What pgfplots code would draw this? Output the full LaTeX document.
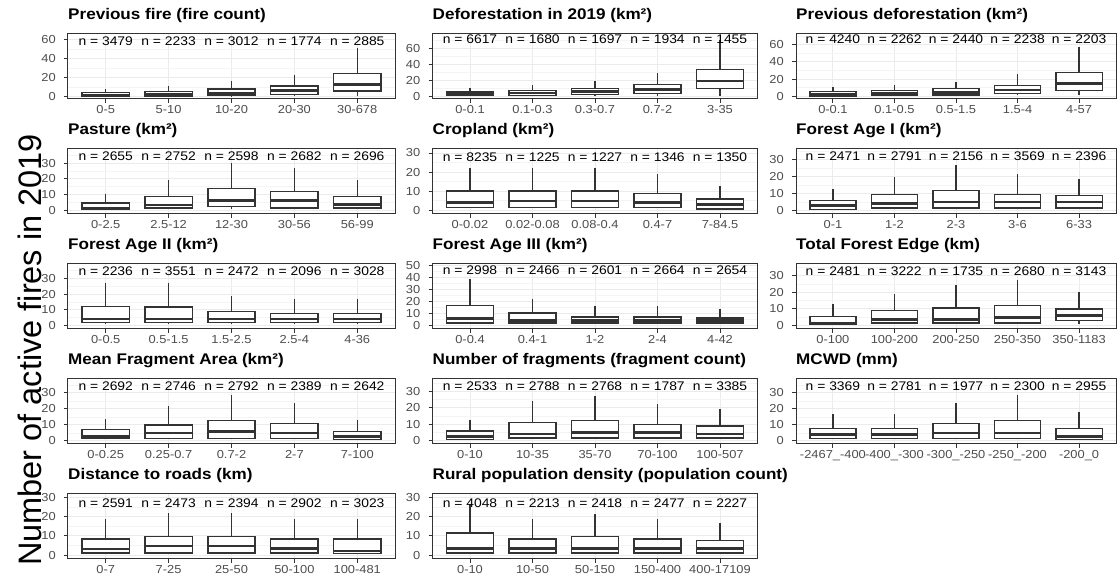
\documentclass[border=0pt]{standalone}
\usepackage{fontspec}
\setmainfont{Liberation Sans}[FakeStretch=1.11]
\newfontfamily\ylabfont{Liberation Sans}
\usepackage{pgfplots}
\pgfplotsset{compat=1.18}
\usepackage{pgfplotstable}
\usepgfplotslibrary{statistics}
\definecolor{gA}{HTML}{333333}
\definecolor{gB}{HTML}{4D4D4D}
\definecolor{gridmaj}{HTML}{EBEBEB}
\definecolor{gridmin}{HTML}{F4F4F4}

\pgfplotstableread{
lw q1 med q3 uw n
1 1 2 4.5 8.5 3479
1 1 2.7 5.5 11 2233
1 1.4 3.8 8.4 17 3012
1 2.8 6.6 11.5 23.4 1774
1 6.3 13.3 24.8 51 2885
}\tA
\pgfplotstableread{
lw q1 med q3 uw n
0.8 0.8 2.9 5.4 10 6617
1 1.25 4.2 7.5 14 1680
1 2.5 6.2 9.6 19 1697
1 3.75 8.75 14.6 29.6 1934
1 10 19.2 33.3 70 1455
}\tB
\pgfplotstableread{
lw q1 med q3 uw n
0.4 0.4 2 5.5 10.5 4240
0.8 0.8 3.5 6.6 12.9 2262
1 1.6 4.7 9 17 2440
1 3.1 7.4 12.9 26 2238
1 6.6 14.8 27.7 57 2203
}\tC
\pgfplotstableread{
lw q1 med q3 uw n
0.4 0.4 1.5 4.6 10.6 2655
1 1.5 3.4 8.9 19 2752
1 2.5 6.1 13.9 30 2598
1 1.5 6.1 11.8 26.8 2682
1 1.5 3.6 8.9 19 2696
}\tD
\pgfplotstableread{
lw q1 med q3 uw n
1 1.6 4 10.1 22 8235
1 1.6 5 10.1 22 1225
1 1.6 5 10.1 22 1227
1 1.6 4 9 19 1346
0.7 0.7 3 5.9 13 1350
}\tE
\pgfplotstableread{
lw q1 med q3 uw n
0.4 0.4 2.8 5.7 12.8 2471
1 1.4 3.9 9.3 19.7 2791
1 1.4 4.9 11.6 26.8 2156
1 1.4 4.9 9.3 21.7 3569
1 1.4 4.9 8.7 18.7 2396
}\tF
\pgfplotstableread{
lw q1 med q3 uw n
1 2.1 4.2 12.3 27 2236
1 2.1 4.2 11.8 27 3551
1 2.1 4.2 8.9 19 2472
1 2.1 4.2 7.6 16.9 2096
1 2.1 4.2 7.6 16.9 3028
}\tG
\pgfplotstableread{
lw q1 med q3 uw n
1 2.2 5.8 16.6 38.7 2998
1 2.2 4.4 10.5 22.4 2466
1 2.2 4.4 7.2 16.6 2601
1 2.2 4.4 7.2 16.6 2664
1 2.2 4.1 6.4 13.8 2654
}\tH
\pgfplotstableread{
lw q1 med q3 uw n
0.6 0.6 1.6 5.6 13 2481
1 1.6 3.6 9 19 3222
1 1.6 3.6 10.6 24.2 1735
1 1.6 5 12 27.6 2680
1 3 6 10 20 3143
}\tI
\pgfplotstableread{
lw q1 med q3 uw n
1 1.7 2.9 7.1 14 2692
1 1.7 5 10 21.7 2746
1 1.7 6 12.9 29 2792
1 1.7 5 10.8 23.75 2389
0.8 0.8 2.9 5.8 12.9 2642
}\tJ
\pgfplotstableread{
lw q1 med q3 uw n
0.4 0.4 2.4 5.7 12.7 2533
1 1.4 3.9 11 24.3 2788
1 1.4 4.9 12 27.3 2768
1 1.4 4.9 9.8 22.4 1787
1 1.4 3.9 8.8 19.4 3385
}\tK
\pgfplotstableread{
lw q1 med q3 uw n
1 1.7 4 7.9 17 3369
1 1.7 4 7.9 17 2781
1 1.7 5 10.8 23.75 1977
1 1.7 5 12.9 29 2300
0.8 0.8 2.9 7.9 18 2955
}\tL
\pgfplotstableread{
lw q1 med q3 uw n
1 1.2 3.3 8.4 18.8 2591
1 1.2 4.8 9.8 21.9 2473
1 1.2 4.8 9.8 21.9 2394
1 1.2 3.4 8.4 18.8 2902
1 1 2.2 8.4 18.8 3023
}\tM
\pgfplotstableread{
lw q1 med q3 uw n
1 1.2 3.4 11.6 26.5 4048
1 1.2 3.4 8.4 18.8 2213
1 1.2 3.4 9.8 21.6 2418
1 1.2 3.4 8.4 18.8 2477
1 1.2 3.4 7.6 16.7 2227
}\tN

\pgfplotsset{
  panel/.style={
    scale only axis, height=65pt,
    anchor=south west,
    xmin=-0.6, xmax=4.6,
    xtick={0,1,2,3,4},
    xmajorgrids, ymajorgrids, yminorgrids,
    major grid style={gridmaj, line width=1pt},
    minor grid style={gridmin, line width=0.6pt},
    axis line style={gA, line width=1pt},
    tick align=outside, major tick length=4pt, minor tick length=0pt,
    tick style={gA, line width=1pt},
    xtick pos=bottom, ytick pos=left,
    /pgf/number format/assume math mode=true,
    tick label style={font=\fontsize{11.6}{12}\selectfont, text=gB},
    yticklabel style={anchor=east, inner sep=0pt, xshift=-8pt},
    xticklabel style={anchor=base, inner sep=0pt, yshift=-10.6pt},
    title style={anchor=base west, at={(0,1)}, yshift=8.5pt, inner sep=0pt,
      font=\bfseries\fontsize{15.4}{16}\selectfont},
  },
  bx/.style={draw=gA, fill=white, line width=1.3pt, solid, mark=none,
    boxplot/draw direction=y,
    boxplot/box extend=0.75, boxplot/whisker extend=0,
    boxplot/every median/.style={line width=2.5pt}},
}
\tikzset{nlab/.style={font=\fontsize{12.5}{13}\selectfont, text=black, inner sep=0pt, anchor=center}}

\newcommand\boxes[2]{%
  \pgfplotsinvokeforeach{0,1,2,3,4}{%
    \pgfplotstablegetelem{##1}{lw}\of{#1}\let\vlw\pgfplotsretval
    \pgfplotstablegetelem{##1}{q1}\of{#1}\let\vqa\pgfplotsretval
    \pgfplotstablegetelem{##1}{med}\of{#1}\let\vmed\pgfplotsretval
    \pgfplotstablegetelem{##1}{q3}\of{#1}\let\vqb\pgfplotsretval
    \pgfplotstablegetelem{##1}{uw}\of{#1}\let\vuw\pgfplotsretval
    \pgfplotstablegetelem{##1}{n}\of{#1}\let\vn\pgfplotsretval
    \pgfmathsetmacro\rx{(##1+0.6)/5.2}%
    \edef\tmp{\noexpand\addplot[bx, boxplot prepared={lower whisker=\vlw,
      lower quartile=\vqa, median=\vmed, upper quartile=\vqb,
      upper whisker=\vuw, draw position=##1}] coordinates {};
      \noexpand\node[nlab] at (rel axis cs:\rx,#2) {n = \vn};}\tmp
  }%
}

\begin{document}
\begin{tikzpicture}
\path[use as bounding box] (0,0) rectangle (1120pt,577pt);

\node[rotate=90, anchor=base, inner sep=0pt, font=\ylabfont\fontsize{32.5}{34}\selectfont] at (42pt,227pt) {Number of active fires in 2019};

% Row 1
\begin{axis}[panel, at={(68pt,478pt)}, width=327pt, ymin=-2.1, ymax=66,
  ytick={0,20,40,60}, minor ytick={10,30,50},
  xticklabels={0-5,5-10,10-20,20-30,30-678},
  title={Previous fire (fire count)}]
\boxes{\tA}{0.885}
\end{axis}
\begin{axis}[panel, at={(432.5pt,478pt)}, width=325pt, ymin=-3.2, ymax=77.5,
  ytick={0,20,40,60}, minor ytick={10,30,50,70},
  xticklabels={0-0.1,0.1-0.3,0.3-0.7,0.7-2,3-35},
  title={Deforestation in 2019 (km²)}]
\boxes{\tB}{0.925}
\end{axis}
\begin{axis}[panel, at={(796pt,478pt)}, width=320pt, ymin=-3.1, ymax=72.5,
  ytick={0,20,40,60}, minor ytick={10,30,50,70},
  xticklabels={0-0.1,0.1-0.5,0.5-1.5,1.5-4,4-57},
  title={Previous deforestation (km²)}]
\boxes{\tC}{0.925}
\end{axis}

% Row 2
\begin{axis}[panel, at={(68pt,363pt)}, width=327pt, ymin=-2.3, ymax=38.9,
  ytick={0,10,20,30}, minor ytick={5,15,25,35},
  xticklabels={0-2.5,2.5-12,12-30,30-56,56-99},
  title={Pasture (km²)}]
\boxes{\tD}{0.885}
\end{axis}
\begin{axis}[panel, at={(432.5pt,363pt)}, width=325pt, ymin=-1.9, ymax=32.1,
  ytick={0,10,20,30}, minor ytick={5,15,25},
  xticklabels={0-0.02,0.02-0.08,0.08-0.4,0.4-7,7-84.5},
  title={Cropland (km²)}]
\boxes{\tE}{0.874}
\end{axis}
\begin{axis}[panel, at={(796pt,363pt)}, width=320pt, ymin=-2.2, ymax=36.3,
  ytick={0,10,20,30}, minor ytick={5,15,25,35},
  xticklabels={0-1,1-2,2-3,3-6,6-33},
  title={Forest Age I (km²)}]
\boxes{\tF}{0.885}
\end{axis}

% Row 3
\begin{axis}[panel, at={(68pt,248pt)}, width=327pt, ymin=-2.1, ymax=39.1,
  ytick={0,10,20,30}, minor ytick={5,15,25,35},
  xticklabels={0-0.5,0.5-1.5,1.5-2.5,2.5-4,4-36},
  title={Forest Age II (km²)}]
\boxes{\tG}{0.885}
\end{axis}
\begin{axis}[panel, at={(432.5pt,248pt)}, width=325pt, ymin=-2.8, ymax=51.1,
  ytick={0,10,20,30,40,50}, minor ytick={5,15,25,35,45},
  xticklabels={0-0.4,0.4-1,1-2,2-4,4-42},
  title={Forest Age III (km²)}]
\boxes{\tH}{0.909}
\end{axis}
\begin{axis}[panel, at={(796pt,248pt)}, width=320pt, ymin=-2, ymax=37,
  ytick={0,10,20,30}, minor ytick={5,15,25,35},
  xticklabels={0-100,100-200,200-250,250-350,350-1183},
  title={Total Forest Edge (km)}]
\boxes{\tI}{0.885}
\end{axis}

% Row 4
\begin{axis}[panel, at={(68pt,133pt)}, width=327pt, ymin=-1.9, ymax=38.75,
  ytick={0,10,20,30}, minor ytick={5,15,25,35},
  xticklabels={0-0.25,0.25-0.7,0.7-2,2-7,7-100},
  title={Mean Fragment Area (km²)}]
\boxes{\tJ}{0.885}
\end{axis}
\begin{axis}[panel, at={(432.5pt,133pt)}, width=325pt, ymin=-2.2, ymax=37.6,
  ytick={0,10,20,30}, minor ytick={5,15,25,35},
  xticklabels={0-10,10-35,35-70,70-100,100-507},
  title={Number of fragments (fragment count)}]
\boxes{\tK}{0.885}
\end{axis}
\begin{axis}[panel, at={(796pt,133pt)}, width=320pt, ymin=-1.9, ymax=38.75,
  ytick={0,10,20,30}, minor ytick={5,15,25,35},
  xticklabels={-2467\_-400,-400\_-300,-300\_-250,-250\_-200,-200\_0},
  title={MCWD (mm)}]
\boxes{\tL}{0.885}
\end{axis}

% Row 5
\begin{axis}[panel, at={(68pt,18pt)}, width=327pt, ymin=-1.9, ymax=31.7,
  ytick={0,10,20,30}, minor ytick={5,15,25},
  xticklabels={0-7,7-25,25-50,50-100,100-481},
  title={Distance to roads (km)}]
\boxes{\tM}{0.86}
\end{axis}
\begin{axis}[panel, at={(432.5pt,18pt)}, width=325pt, ymin=-1.9, ymax=31.7,
  ytick={0,10,20,30}, minor ytick={5,15,25},
  xticklabels={0-10,10-50,50-150,150-400,400-17109},
  title={Rural population density (population count)}]
\boxes{\tN}{0.86}
\end{axis}
\end{tikzpicture}
\end{document}
